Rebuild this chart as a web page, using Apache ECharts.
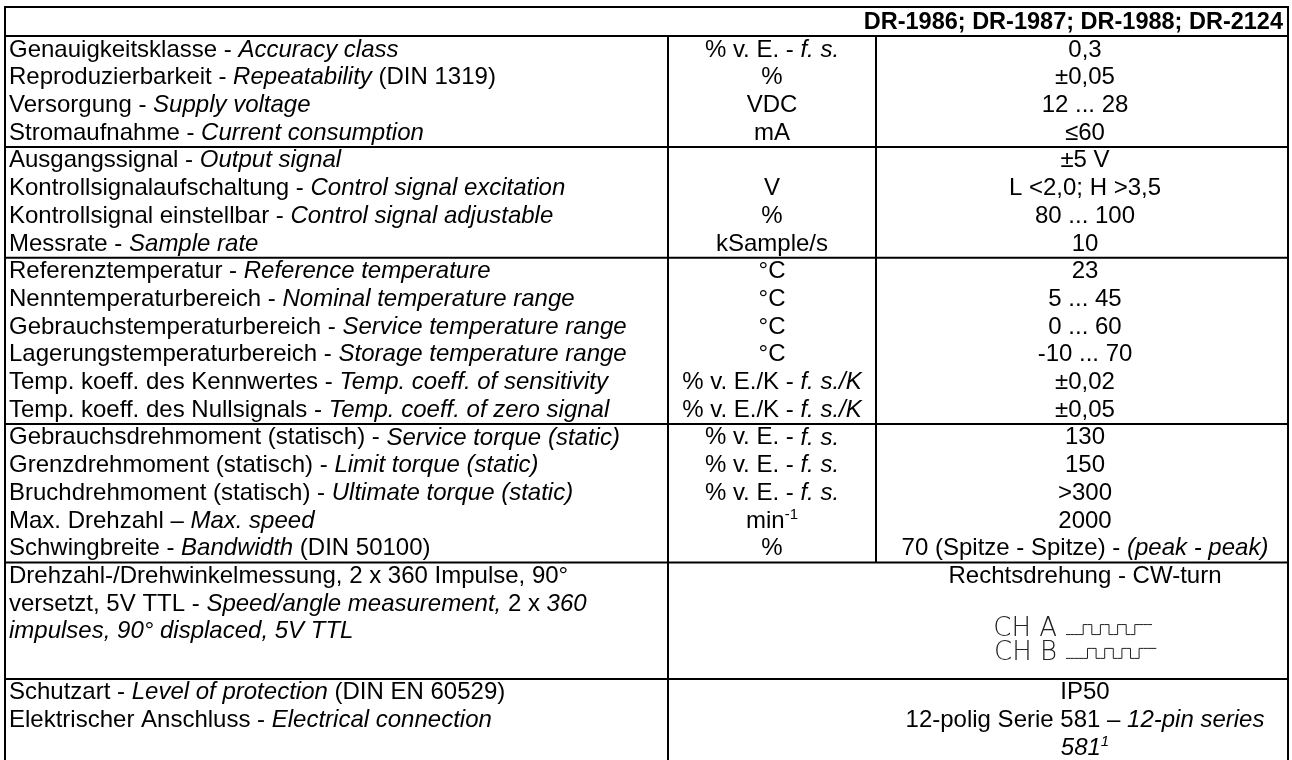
<!DOCTYPE html>
<html>
<head>
<meta charset="utf-8">
<script src="https://cdn.jsdelivr.net/npm/echarts@6/dist/echarts.min.js"></script>
<style>
  html, body { margin: 0; padding: 0; background: #fff; }
  #main { width: 1292px; height: 760px; }
</style>
</head>
<body>
<div id="main"></div>
<script>
// --- table content ---
const headerText = 'DR-1986; DR-1987; DR-1988; DR-2124';

const paramNames = [
  'Genauigkeitsklasse - {i|Accuracy class}',
  'Reproduzierbarkeit - {i|Repeatability} (DIN 1319)',
  'Versorgung - {i|Supply voltage}',
  'Stromaufnahme - {i|Current consumption}',
  'Ausgangssignal - {i|Output signal}',
  'Kontrollsignalaufschaltung - {i|Control signal excitation}',
  'Kontrollsignal einstellbar - {i|Control signal adjustable}',
  'Messrate - {i|Sample rate}',
  'Referenztemperatur - {i|Reference temperature}',
  'Nenntemperaturbereich - {i|Nominal temperature range}',
  'Gebrauchstemperaturbereich - {i|Service temperature range}',
  'Lagerungstemperaturbereich - {i|Storage temperature range}',
  'Temp. koeff. des Kennwertes - {i|Temp. coeff. of sensitivity}',
  'Temp. koeff. des Nullsignals - {i|Temp. coeff. of zero signal}',
  'Gebrauchsdrehmoment (statisch) - {i|Service torque (static)}',
  'Grenzdrehmoment (statisch) - {i|Limit torque (static)}',
  'Bruchdrehmoment (statisch) - {i|Ultimate torque (static)}',
  'Max. Drehzahl – {i|Max. speed}',
  'Schwingbreite - {i|Bandwidth} (DIN 50100)',
  'Drehzahl-/Drehwinkelmessung, 2 x 360 Impulse, 90°\nversetzt, 5V TTL - {i|Speed/angle measurement,} 2 x {i|360}\n{i|impulses, 90° displaced, 5V TTL}',
  'Schutzart - {i|Level of protection} (DIN EN 60529)',
  'Elektrischer Anschluss - {i|Electrical connection}'
];

// null = unit and value share one cell
const units = [
  '% v. E. - {i|f. s.}', '%', 'VDC', 'mA',
  '', 'V', '%', 'kSample/s',
  '°C', '°C', '°C', '°C', '% v. E./K - {i|f. s./K}', '% v. E./K - {i|f. s./K}',
  '% v. E. - {i|f. s.}', '% v. E. - {i|f. s.}', '% v. E. - {i|f. s.}', 'min{sup|-1}', '%',
  null,
  null, null
];

const values = [
  '0,3', '±0,05', '12 ... 28', '≤60',
  '±5 V', 'L <2,0; H >3,5', '80 ... 100', '10',
  '23', '5 ... 45', '0 ... 60', '-10 ... 70', '±0,02', '±0,05',
  '130', '150', '>300', '2000', '70 (Spitze - Spitze) - {i|(peak - peak)}',
  'Rechtsdrehung - CW-turn',
  'IP50', '12-polig Serie 581 – {i|12-pin series}\n{i|581}{isup|1}'
];

// height of every row, in text lines
const rowLines = [1, 1, 1, 1, 1, 1, 1, 1, 1, 1, 1, 1, 1, 1, 1, 1, 1, 1, 1, 4.2, 1, 2];
// rows per ruled block
const blockSizes = [4, 4, 6, 5, 1, 2];

// encoder signals, one level per quarter period
const channelNames = ['CH A', 'CH B'];
const pulseA = [0, 0, 0, 0, 1, 1, 0, 0, 1, 1, 0, 0, 1, 1, 0, 0, 1, 1, 1, 1];
const pulseB = [0, 0, 0, 0, 0, 1, 1, 0, 0, 1, 1, 0, 0, 1, 1, 0, 0, 1, 1, 1, 1];

// --- layout ---
const FONT_FAMILY = '"Liberation Sans", Arial, sans-serif';
const FS = 24;
const FS_HEADER = 23.5;
const X_LEFT = 5, X_COL2 = 668, X_COL3 = 876, X_RIGHT = 1288;
const X_TEXT = 9, X_UNIT = 772, X_VALUE = 1085, X_HEADER = 1283;
const HEADER_TOP = -1.05;
const CH_OFFSETS = [2.42, 3.28];
const X_CH = 1057, X_WAVE = 1066, WAVE_STEP = 4.3, WAVE_H = 10;

const rowTops = [];
rowLines.reduce((acc, h, i) => { rowTops[i] = acc; return acc + h; }, 0);
const totalLines = rowLines.reduce((a, b) => a + b, 0);

// blocks: [top, bottom, columns]
const blocks = [[HEADER_TOP, 0, 0]];
let r = 0;
blockSizes.forEach(n => {
  const top = rowTops[r];
  const bottom = rowTops[r + n - 1] + rowLines[r + n - 1];
  blocks.push([top, bottom, units[r] === null ? 2 : 3]);
  r += n;
});
const encoderRow = paramNames.findIndex(t => t.indexOf('Drehzahl-/') === 0);

function richStyles(lh) {
  return {
    i: { font: 'italic ' + FS + 'px ' + FONT_FAMILY, lineHeight: lh, fill: '#000' },
    sup: { font: '15px ' + FONT_FAMILY, lineHeight: 15, verticalAlign: 'top', fill: '#000' },
    isup: { font: 'italic 15px ' + FONT_FAMILY, lineHeight: 15, verticalAlign: 'top', fill: '#000' }
  };
}

function cell(text, x, y, align, lh, bold) {
  return {
    type: 'text',
    style: {
      text: text,
      x: x,
      y: y,
      align: align,
      verticalAlign: 'top',
      font: bold ? 'bold ' + FS_HEADER + 'px ' + FONT_FAMILY : FS + 'px ' + FONT_FAMILY,
      lineHeight: lh,
      fill: '#000',
      rich: richStyles(lh)
    }
  };
}

function wavePoints(levels, x0, yMid) {
  const pts = [];
  levels.forEach((lv, k) => {
    const yy = yMid + (lv ? -WAVE_H / 2 : WAVE_H / 2);
    pts.push([x0 + k * WAVE_STEP, yy], [x0 + (k + 1) * WAVE_STEP, yy]);
  });
  return pts;
}

function renderRow(params, api) {
  const top = api.value(0);
  const i = api.value(1);
  const lh = api.size([0, 1])[1];
  const y = api.coord([0, top])[1];
  const children = [cell(paramNames[i], api.coord([X_TEXT, top])[0], y, 'left', lh)];
  if (units[i] !== null) {
    children.push(cell(units[i], api.coord([X_UNIT, top])[0], y, 'center', lh));
  }
  children.push(cell(values[i], api.coord([X_VALUE, top])[0], y, 'center', lh));

  if (i === encoderRow) {
    [pulseA, pulseB].forEach((levels, k) => {
      const yMid = api.coord([0, top + CH_OFFSETS[k]])[1];
      children.push({
        type: 'text',
        style: {
          text: channelNames[k],
          x: api.coord([X_CH, 0])[0],
          y: yMid,
          align: 'right',
          verticalAlign: 'middle',
          font: '200 26px "DejaVu Sans", sans-serif',
          fill: '#222'
        }
      });
      children.push({
        type: 'polyline',
        shape: { points: wavePoints(levels, api.coord([X_WAVE, 0])[0], yMid) },
        style: { stroke: '#222', lineWidth: 1, fill: null }
      });
    });
  }
  return { type: 'group', children: children };
}

function renderBlock(params, api) {
  const top = api.value(0);
  const bottom = api.value(1);
  const cols = api.value(2);
  const y0 = api.coord([0, top])[1];
  const y1 = api.coord([0, bottom])[1];
  const line = (x1, ya, x2, yb) => ({
    type: 'line',
    shape: { x1: x1, y1: ya, x2: x2, y2: yb },
    style: { stroke: '#000', lineWidth: 2 }
  });
  const xl = api.coord([X_LEFT, 0])[0];
  const xr = api.coord([X_RIGHT, 0])[0];
  const children = [line(xl - 1, y0, xr + 1, y0), line(xl, y0, xl, y1), line(xr, y0, xr, y1)];
  if (cols >= 2) {
    const x2 = api.coord([X_COL2, 0])[0];
    children.push(line(x2, y0, x2, y1));
  }
  if (cols === 3) {
    const x3 = api.coord([X_COL3, 0])[0];
    children.push(line(x3, y0, x3, y1));
  }
  if (cols === 0) {
    children.push(cell(headerText, api.coord([X_HEADER, 0])[0], y0 + 1, 'right', y1 - y0, true));
  }
  return { type: 'group', children: children };
}

const chart = echarts.init(document.getElementById('main'), null, { renderer: 'canvas' });
chart.setOption({
  backgroundColor: '#ffffff',
  animation: false,
  grid: { left: 0, right: 0, top: 7, height: 755, outerBoundsMode: 'none' },
  xAxis: { type: 'value', min: 0, max: 1292, show: false },
  yAxis: { type: 'value', min: HEADER_TOP, max: totalLines, inverse: true, show: false },
  series: [
    {
      type: 'custom',
      name: 'rules',
      silent: true,
      clip: false,
      renderItem: renderBlock,
      data: blocks
    },
    {
      type: 'custom',
      name: 'rows',
      silent: true,
      clip: false,
      renderItem: renderRow,
      data: rowTops.map((t, i) => [t, i])
    }
  ]
});
</script>
</body>
</html>
